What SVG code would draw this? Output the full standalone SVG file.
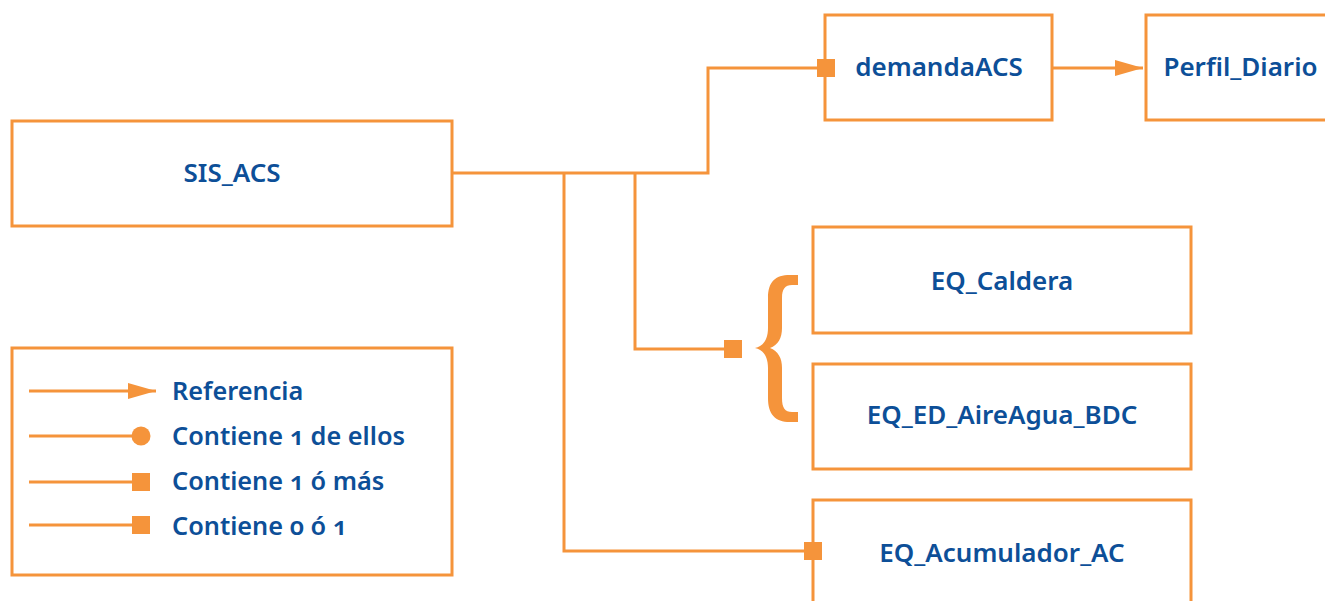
<svg xmlns="http://www.w3.org/2000/svg" width="1325" height="601" viewBox="0 0 1325 601">
  <style>
    .box { fill: #ffffff; stroke: #f5943b; stroke-width: 3; }
    .wire { fill: none; stroke: #f5943b; stroke-width: 3; }
    .label { font-family: "Noto Sans", "Open Sans", "Liberation Sans", sans-serif; font-weight: 600; font-size: 26px; fill: #0d4f98; font-variant-numeric: oldstyle-nums; }
    .key { font-size: 25.3px; }
    .mid { text-anchor: middle; }
  </style>
  <defs>
    <marker id="arrow" markerUnits="userSpaceOnUse" markerWidth="28" markerHeight="16" refX="28" refY="8" orient="auto">
      <path d="M0 0 L28 8 L0 16 Z" fill="#f5943b"/>
    </marker>
    <marker id="square" markerUnits="userSpaceOnUse" markerWidth="18" markerHeight="18" refX="9" refY="9" orient="auto">
      <rect x="0" y="0" width="18" height="18" fill="#f5943b"/>
    </marker>
    <marker id="dot" markerUnits="userSpaceOnUse" markerWidth="20" markerHeight="20" refX="10" refY="10" orient="auto">
      <circle cx="10" cy="10" r="9.5" fill="#f5943b"/>
    </marker>
  </defs>

  <g id="sis_acs">
    <rect class="box" x="12" y="121" width="440" height="105"/>
    <text class="label mid" x="232" y="182">SIS_ACS</text>
  </g>

  <g id="demandaACS">
    <rect class="box" x="825" y="15" width="227" height="105"/>
    <text class="label mid" x="939" y="76">demandaACS</text>
  </g>

  <g id="perfil_diario">
    <rect class="box" x="1146" y="15" width="189" height="105"/>
    <text class="label mid" x="1240.5" y="76">Perfil_Diario</text>
  </g>

  <g id="eq_caldera">
    <rect class="box" x="813" y="227" width="378" height="106"/>
    <text class="label mid" x="1002" y="290">EQ_Caldera</text>
  </g>

  <g id="eq_ed_aireagua_bdc">
    <rect class="box" x="813" y="364" width="378" height="105"/>
    <text class="label mid" x="1002" y="424">EQ_ED_AireAgua_BDC</text>
  </g>

  <g id="eq_acumulador_ac">
    <rect class="box" x="813" y="500" width="378" height="120"/>
    <text class="label mid" x="1002" y="562">EQ_Acumulador_AC</text>
  </g>

  <!-- legend -->
  <g id="legend">
    <rect class="box" x="12" y="348" width="440" height="227"/>
    <path class="wire" d="M29 391 H156" marker-end="url(#arrow)"/>
    <path class="wire" d="M29 436 H141" marker-end="url(#dot)"/>
    <path class="wire" d="M29 482 H141" marker-end="url(#square)"/>
    <path class="wire" d="M29 525 H141" marker-end="url(#square)"/>
    <text class="label key" x="172" y="400">Referencia</text>
    <text class="label key" x="172" y="445">Contiene 1 de ellos</text>
    <text class="label key" x="172" y="490">Contiene 1 ó más</text>
    <text class="label key" x="172" y="535">Contiene 0 ó 1</text>
  </g>

  <!-- connectors, drawn last so the end markers sit over the box borders -->
  <g id="connectors">
    <path class="wire" d="M451 173 H708 V68 H826" marker-end="url(#square)"/>
    <path class="wire" d="M635 173 V349 H733" marker-end="url(#square)"/>
    <path class="wire" d="M564 173 V551 H813" marker-end="url(#square)"/>
    <path class="wire" d="M1052 68 H1143" marker-end="url(#arrow)"/>
    <!-- brace grouping the two alternatives -->
    <path fill="#f5943b" d="M798 275 L790 275 C775 275 768 282 768 298 L768 328 C768 340 763 346 755 348 C763 350 768 356 768 368 L768 398 C768 414 775 422 790 422 L798 422 L798 412 L792 412 C785 412 782 408 782 398 L782 368 C782 358 778 351 770 348 C778 345 782 338 782 328 L782 298 C782 289 785 285 792 285 L798 285 Z"/>
  </g>
</svg>
